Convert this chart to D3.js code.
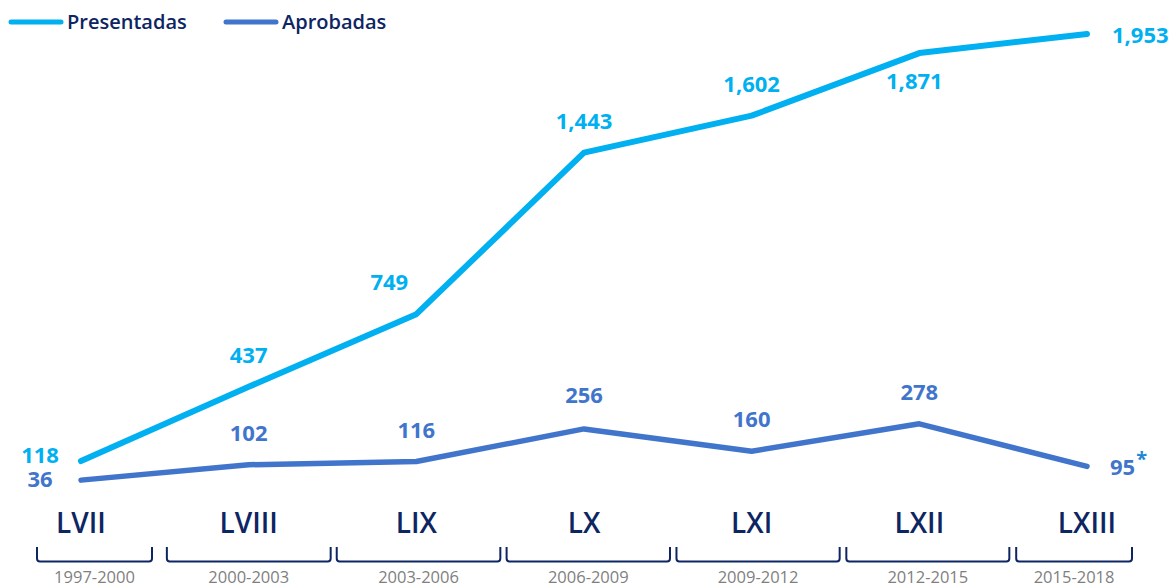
<!DOCTYPE html>
<html>
<head>
<meta charset="utf-8">
<script src="https://cdn.jsdelivr.net/npm/d3@7"></script>
<style>
  body { margin: 0; background: #fff; }
  text { font-family: "Open Sans", "Noto Sans", sans-serif; }
</style>
</head>
<body>
<script>
  var w = 1174
  var h = 587

  // data
  var legislaturas = ["LVII", "LVIII", "LIX", "LX", "LXI", "LXII", "LXIII"]
  var periodos = ["1997-2000", "2000-2003", "2003-2006", "2006-2009", "2009-2012", "2012-2015", "2015-2018"]
  var presentadas = [118, 437, 749, 1443, 1602, 1871, 1953]
  var aprobadas = [36, 102, 116, 256, 160, 278, 95]

  var cyan = "#00b0f0"
  var blue = "#4175cc"
  var navy = "#0d2562"

  //SCALES
  var x = d3.scalePoint()
      .domain(legislaturas)
      .range([81, 1087])

  var y = d3.scaleLinear()
      .domain([0, d3.max(presentadas)])
      .range([488.5, 34])

  var svg = d3.select("body")
      .append("svg")
      .attr("width", w)
      .attr("height", h)

  //LINES
  var line = d3.line()
      .x(function (d, i) { return x(legislaturas[i]) })
      .y(function (d) { return y(d) })

  svg.append("path")
      .datum(aprobadas)
      .attr("d", line)
      .attr("fill", "none")
      .attr("stroke", blue)
      .attr("stroke-width", 5.5)
      .attr("stroke-linecap", "round")
      .attr("stroke-linejoin", "round")

  svg.append("path")
      .datum(presentadas)
      .attr("d", line)
      .attr("fill", "none")
      .attr("stroke", cyan)
      .attr("stroke-width", 6)
      .attr("stroke-linecap", "round")
      .attr("stroke-linejoin", "round")

  //VALUE LABELS (placement: default above the point, a few moved aside)
  var fmt = d3.format(",")

  function place(series, i) {
      var last = legislaturas.length - 1
      if (i == 0) return { dx: -41, dy: series == "p" ? 2 : 7, anchor: "middle" }
      if (i == last) return { dx: series == "p" ? 25 : 23, dy: 9, anchor: "start" }
      if (series == "p" && i == 2) return { dx: -27, dy: -24, anchor: "middle" }
      if (series == "p" && i == 5) return { dx: -5, dy: 36, anchor: "middle" }
      return { dx: 0, dy: series == "a" && i == 3 ? -26 : -24, anchor: "middle" }
  }

  svg.selectAll(".lblP")
      .data(presentadas)
      .enter()
      .append("text")
      .attr("class", "lblP")
      .attr("x", function (d, i) { return x(legislaturas[i]) + place("p", i).dx })
      .attr("y", function (d, i) { return y(d) + place("p", i).dy })
      .attr("text-anchor", function (d, i) { return place("p", i).anchor })
      .attr("font-size", "22px")
      .attr("font-weight", "bold")
      .attr("fill", cyan)
      .text(function (d) { return fmt(d) })

  var lblA = svg.selectAll(".lblA")
      .data(aprobadas)
      .enter()
      .append("text")
      .attr("class", "lblA")
      .attr("x", function (d, i) { return x(legislaturas[i]) + place("a", i).dx })
      .attr("y", function (d, i) { return y(d) + place("a", i).dy })
      .attr("text-anchor", function (d, i) { return place("a", i).anchor })
      .attr("font-size", "22px")
      .attr("font-weight", "bold")
      .attr("fill", blue)
      .text(function (d) { return fmt(d) })

  // asterisk on the last (partial) legislature
  lblA.filter(function (d, i) { return i == aprobadas.length - 1 })
      .append("tspan")
      .attr("dy", -9)
      .attr("dx", 1)
      .attr("font-size", "20px")
      .attr("fill", "#1f88d4")
      .text("*")

  //CATEGORY LABELS
  svg.selectAll(".leg")
      .data(legislaturas)
      .enter()
      .append("text")
      .attr("class", "leg")
      .attr("x", function (d) { return x(d) })
      .attr("y", 533)
      .attr("text-anchor", "middle")
      .attr("font-size", "28px")
      .attr("font-weight", 600)
      .attr("fill", navy)
      .text(function (d) { return d })

  //BRACKETS (they drift slightly right of the points in the original)
  var last = legislaturas.length - 1
  var brackets = legislaturas.map(function (d, i) {
      var left = i == 0 ? x(d) - 44 : x(d) - 84 + 2.2 * i
      var right = i == 0 ? x(d) + 71 : (i == last ? x(d) + 45 : x(d) + 80 + 2 * i)
      return { left: left, right: right, label: periodos[i] }
  })

  var bTop = 547, bBot = 561.5, r = 3
  svg.selectAll(".bracket")
      .data(brackets)
      .enter()
      .append("path")
      .attr("class", "bracket")
      .attr("d", function (b) {
          return "M" + b.left + "," + bTop +
              " L" + b.left + "," + (bBot - r) +
              " Q" + b.left + "," + bBot + " " + (b.left + r) + "," + bBot +
              " L" + (b.right - r) + "," + bBot +
              " Q" + b.right + "," + bBot + " " + b.right + "," + (bBot - r) +
              " L" + b.right + "," + bTop
      })
      .attr("fill", "none")
      .attr("stroke", navy)
      .attr("stroke-width", 2)

  svg.selectAll(".periodo")
      .data(brackets)
      .enter()
      .append("text")
      .attr("class", "periodo")
      .attr("x", function (b) { return (b.left + b.right) / 2 })
      .attr("y", 583)
      .attr("text-anchor", "middle")
      .attr("font-size", "16.5px")
      .attr("fill", "#7f7f7f")
      .text(function (b) { return b.label })

  //LEGEND
  var legend = [{ name: "Presentadas", color: cyan, x: 9 }, { name: "Aprobadas", color: blue, x: 224 }]
  var lg = svg.selectAll(".legend")
      .data(legend)
      .enter()
      .append("g")
      .attr("class", "legend")
      .attr("transform", function (d) { return "translate(" + d.x + ",22)" })

  lg.append("line")
      .attr("x1", 2).attr("x2", 52)
      .attr("y1", 0).attr("y2", 0)
      .attr("stroke", function (d) { return d.color })
      .attr("stroke-width", 5)
      .attr("stroke-linecap", "round")

  lg.append("text")
      .attr("x", 58)
      .attr("y", 6.5)
      .attr("font-size", "20px")
      .attr("font-weight", 600)
      .attr("fill", navy)
      .text(function (d) { return d.name })
</script>
</body>
</html>
